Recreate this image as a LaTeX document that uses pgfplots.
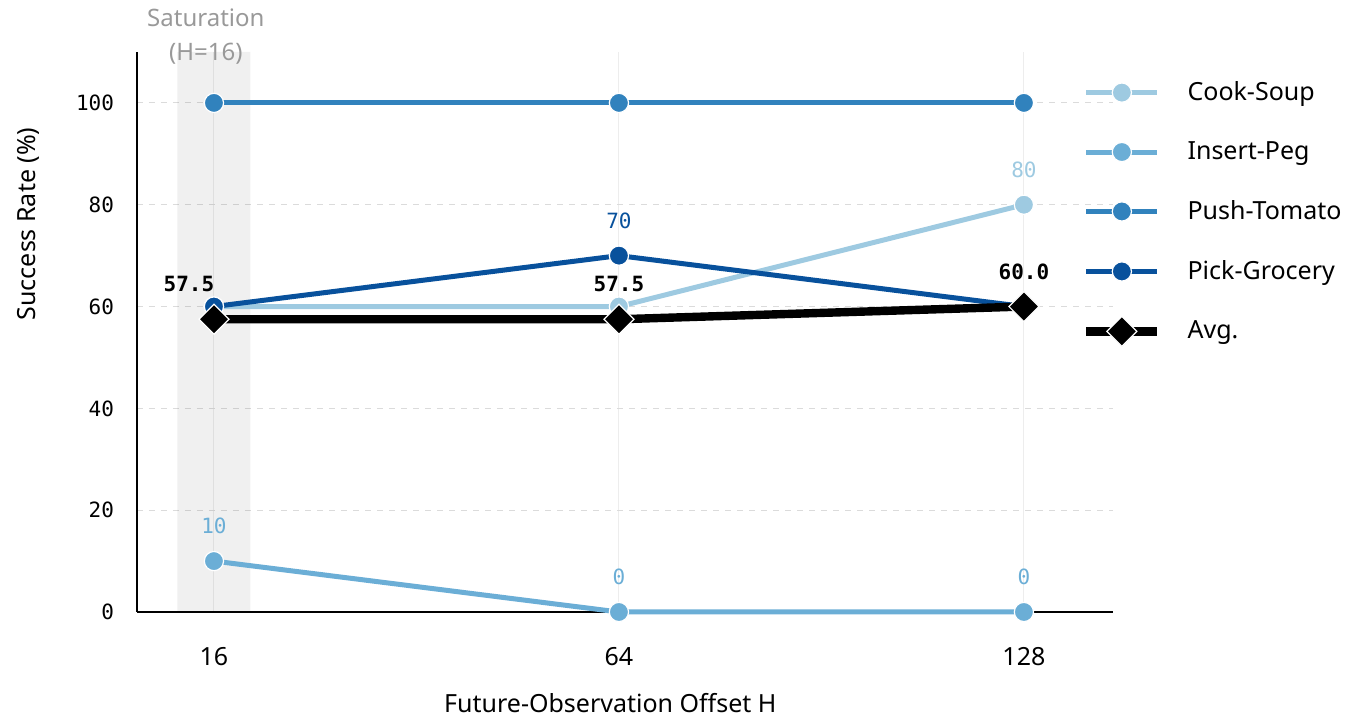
\documentclass[border=0pt]{standalone}
\usepackage{pgfplots}
\pgfplotsset{compat=1.18}
\usepackage{fontspec}
\setmainfont{Noto Sans}
\newfontfamily\monofont{DejaVu Sans Mono}

\definecolor{cSoup}{HTML}{9ECAE1}
\definecolor{cPeg}{HTML}{6BAED6}
\definecolor{cTomato}{HTML}{3182BD}
\definecolor{cGrocery}{HTML}{08519C}
\definecolor{satgray}{HTML}{999999}

\pgfplotsset{
  task/.style={color=#1, line width=2.5pt,
    mark=*, mark size=4.8pt,
    mark options={fill=#1, draw=white, line width=0.6pt, solid}},
  lbl/.style={draw=none, mark=none, forget plot,
    nodes near coords, point meta=explicit symbolic,
    every node near coord/.append style={font=\monofont\fontsize{10.5}{12}\selectfont,
      text=#1, anchor=center, yshift=17.5pt}},
}

\begin{document}
\begin{tikzpicture}
\path[use as bounding box] (-68.5pt,-57pt) rectangle (613.5pt,306pt);
\begin{axis}[
  at={(0,0)}, anchor=south west,
  width=488pt, height=280pt, scale only axis,
  xmin=-0.19, xmax=2.22, ymin=0, ymax=110,
  axis x line*=bottom, axis y line*=left,
  axis line style={line width=1.2pt, black},
  xtick={0,1,2}, xticklabels={16,64,128},
  ytick={0,20,40,60,80,100},
  major tick length=0pt,
  xmajorgrids, ymajorgrids,
  x grid style={color=black!7, line width=0.5pt},
  y grid style={color=black!14, dashed, line width=0.5pt},
  /pgf/number format/assume math mode=true,
  xticklabel style={font=\fontsize{12.5}{14}\selectfont, yshift=-14pt},
  yticklabel style={font=\monofont\fontsize{10.5}{12}\selectfont, xshift=-8pt},
  xlabel={Future-Observation Offset H},
  ylabel={Success Rate (\%)},
  label style={font=\fontsize{12.5}{14}\selectfont},
  xlabel style={at={(rel axis cs:0.485,0)}, anchor=center, yshift=-45.5pt},
  ylabel style={at={(rel axis cs:0,0.693)}, anchor=center, yshift=54.5pt},
  clip=false,
  legend style={draw=none, fill=none, at={(rel axis cs:0.968,0.955)}, anchor=north west,
    font=\fontsize{12.5}{14}\selectfont, inner sep=0pt, row sep=15pt,
    /tikz/every odd column/.append style={column sep=11pt}},
  legend cell align=left,
  legend image code/.code={
    \draw[mark repeat=2, mark phase=2, #1] plot coordinates {(0pt,0pt) (17.75pt,0pt) (35.5pt,0pt)};
  },
]
% saturation band
\addplot[draw=none, fill=black, fill opacity=0.06, forget plot]
  coordinates {(-0.09,0) (-0.09,110) (0.09,110) (0.09,0)} \closedcycle;
\node[text=satgray, font=\fontsize{12}{17}\selectfont, align=center, anchor=south]
  at (axis cs:-0.02,106.2) {Saturation\\(H=16)};

\addplot[task=cSoup] coordinates {(0,60) (1,60) (2,80)};
\addlegendentry{Cook-Soup}
\addplot[task=cPeg] coordinates {(0,10) (1,0) (2,0)};
\addlegendentry{Insert-Peg}
\addplot[task=cTomato] coordinates {(0,100) (1,100) (2,100)};
\addlegendentry{Push-Tomato}
\addplot[task=cGrocery] coordinates {(0,60) (1,70) (2,60)};
\addlegendentry{Pick-Grocery}
\addplot[color=black, line width=4.2pt, mark=square*, mark size=5.3pt,
  mark options={rotate=45, fill=black, draw=white, line width=0.6pt}]
  coordinates {(0,57.5) (1,57.5) (2,60)};
\addlegendentry{Avg.}

% value labels
\addplot[lbl=cSoup] coordinates {(2,80) [80]};
\addplot[lbl=cPeg] coordinates {(0,10) [10] (1,0) [0] (2,0) [0]};
\addplot[lbl=cGrocery] coordinates {(1,70) [70]};
\addplot[lbl=black, every node near coord/.append style={font=\monofont\bfseries\fontsize{10.5}{12}\selectfont}]
  coordinates {(1,57.5) [57.5] (2,60) [60.0]};
\addplot[lbl=black, every node near coord/.append style={font=\monofont\bfseries\fontsize{10.5}{12}\selectfont, xshift=-12.5pt}]
  coordinates {(0,57.5) [57.5]};
\end{axis}
\end{tikzpicture}
\end{document}
